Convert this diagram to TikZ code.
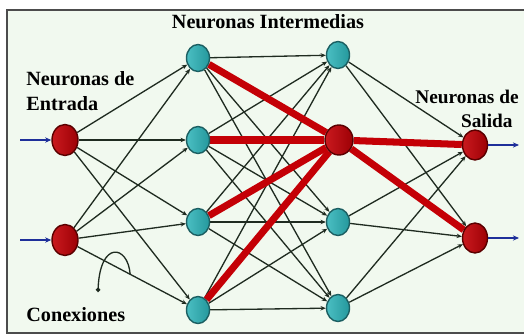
\documentclass[tikz,border=0pt]{standalone}
\usepackage{fontspec}
\setmainfont{Liberation Serif}
\usetikzlibrary{arrows.meta,backgrounds,calc,shapes.geometric}

\definecolor{fondo}{HTML}{F1F9EF}
\definecolor{cian}{HTML}{2BB3B8}
\definecolor{cianborde}{HTML}{1C5F62}
\definecolor{rojo}{HTML}{C40006}
\definecolor{rojoborde}{HTML}{5A0000}
\definecolor{linea}{HTML}{1F2B20}
\definecolor{azul}{HTML}{1E2F9A}

\begin{document}
\begin{tikzpicture}[x=0.02cm, y=-0.02cm,
  entrada/.style={ellipse, draw=rojoborde, thick, left color=rojo!90!white, right color=rojo!80!black, minimum width=0.52cm, minimum height=0.62cm, inner sep=0pt},
  salida/.style={entrada, minimum width=0.50cm, minimum height=0.60cm},
  activa/.style={entrada, minimum width=0.56cm, minimum height=0.60cm},
  oculta/.style={ellipse, draw=cianborde, thick, left color=cian!85!white, right color=cian!85!black, minimum width=0.46cm, minimum height=0.54cm, inner sep=0pt},
  conexion/.style={draw=linea, line width=0.75pt, -{Stealth[length=3pt,width=2.5pt]}},
  fuerte/.style={draw=rojo, line width=4pt},
  flecha/.style={draw=azul, line width=1pt, -{Stealth[length=3.5pt,width=3pt]}},
  gancho/.style={draw=linea, line width=0.75pt, -{Circle[length=2.5pt]}},
  rotulo/.style={font=\fontsize{11.5}{14}\selectfont\bfseries, inner sep=0pt},
  marco/.style={draw=black!70, line width=0.8pt}]
  \useasboundingbox (0,0) rectangle (524,335);

  % neuronas
  \node[entrada] (E1) at (65,140) {};
  \node[entrada] (E2) at (65,240) {};
  \foreach \y/\n in {58/1, 140/2, 222/3, 310/4}
  {
    \node[oculta] (I\n) at (198,\y) {};
  }
  \foreach \y/\n in {55/1, 222/3, 308/4}
  {
    \node[oculta] (J\n) at (338,\y) {};
  }
  \node[activa] (J2) at (339,140) {};
  \node[salida] (S1) at (475,145) {};
  \node[salida] (S2) at (475,238) {};

  % textos
  \node[rotulo] (tintermedias) at (268,22) {Neuronas Intermedias};
  \node[rotulo, anchor=west, align=left] (tentrada) at (26,91) {Neuronas de\\Entrada};
  \node[rotulo, anchor=west, align=left, font=\fontsize{11}{14}\selectfont\bfseries] (tsalida) at (415,109) {Neuronas de\\\hspace*{26pt}Salida};
  \node[rotulo, anchor=west] (tconexiones) at (26,315) {Conexiones};

  \coordinate (e1in) at (20,140);
  \coordinate (e2in) at (20,240);
  \coordinate (s1out) at (519,145);
  \coordinate (s2out) at (519,238);
  \coordinate (c0) at ($(E2)!0.49!(I4)$);
  \coordinate (c1) at (98,292);

  \begin{scope}[on background layer]
    \fill[fondo] (7,10) rectangle (524,333);
    \draw[marco] (524,10) -- (7,10) -- (7,333) -- (524,333);
    \foreach \a in {E1,E2}
      \foreach \b in {I1,I2,I3,I4}
        \path[conexion] (\a) -- (\b);
    \foreach \a in {I1,I2,I3,I4}
      \foreach \b in {J1,J3,J4}
        \path[conexion] (\a) -- (\b);
    \foreach \a in {J1,J3,J4}
      \foreach \b in {S1,S2}
        \path[conexion] (\a) -- (\b);
    \foreach \a in {I1,I2,I3,I4}
      \path[fuerte] (\a) -- (J2);
    \path[fuerte] (J2) -- (S1);
    \path[fuerte] (J2) -- (S2);
  \end{scope}

  \path[flecha] (e1in) -- (E1);
  \path[flecha] (e2in) -- (E2);
  \path[flecha] (S1) -- (s1out);
  \path[flecha] (S2) -- (s2out);
  \path[gancho] (c0) .. controls (128,245) and (100,240) .. (c1);
\end{tikzpicture}
\end{document}
